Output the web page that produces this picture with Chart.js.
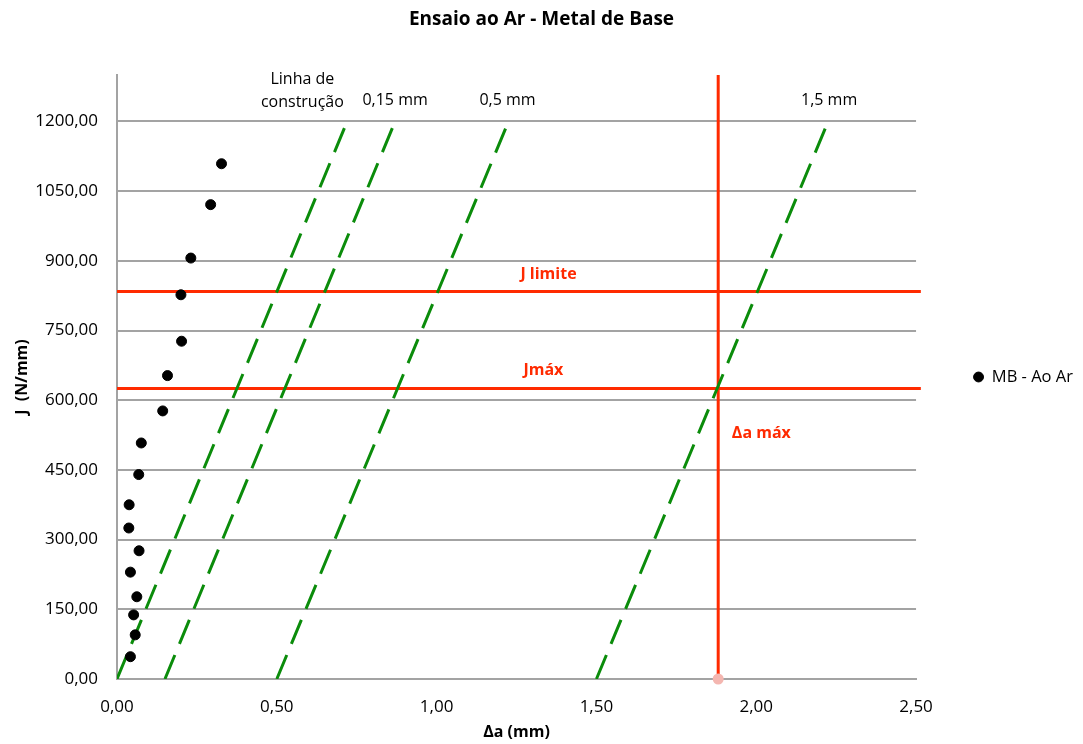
<!DOCTYPE html>
<html>
<head>
<meta charset="utf-8">
<script src="https://cdn.jsdelivr.net/npm/chart.js@4"></script>
<style>
  html, body { margin: 0; padding: 0; background: #ffffff; }
  #wrap { width: 1083px; height: 744px; }
</style>
</head>
<body>
<div id="wrap"><canvas id="chart" width="1083" height="744"></canvas></div>
<script>
// MB - Ao Ar measured points (Δa mm, J N/mm)
const mbDa = [0.042, 0.057, 0.052, 0.062, 0.042, 0.069, 0.037, 0.038, 0.068, 0.076,
              0.143, 0.158, 0.202, 0.200, 0.231, 0.293, 0.327];
const mbJ  = [48, 95, 138, 177, 230, 276, 325, 375, 440, 508,
              577, 653, 727, 827, 906, 1021, 1109];

// blunting / offset lines: [start Δa, end Δa] from J=0 to J=1200
const offsetNames = ["Linha de construção", "0,15 mm", "0,5 mm", "1,5 mm"];
const offsetDaStart = [0, 0.15, 0.5, 1.5];
const offsetDaEnd   = [0.72, 0.87, 1.225, 2.225];
const offsetJ       = [0, 1200];

// limits
const jLimite = 834;
const jMax = 625;
const daMax = 1.881;
const limitDaSpan = [0, 2.515];
const limitJSpan = [0, 1300];

const xTicks = [0, 0.5, 1.0, 1.5, 2.0, 2.5];
const yTicks = [0, 150, 300, 450, 600, 750, 900, 1050, 1200];

const fmt = v => v.toFixed(2).replace(".", ",");

const GREEN = "#0b8c0b";
const RED = "#ff2a00";
const FONT = "'Open Sans', sans-serif";

// text labels placed at data coordinates
const notes = [
  { text: "Linha de", x: 0.58, y: 1290, color: "#000", bold: false },
  { text: "construção", x: 0.58, y: 1240, color: "#000", bold: false },
  { text: "0,15 mm", x: 0.87, y: 1245, color: "#000", bold: false },
  { text: "0,5 mm", x: 1.222, y: 1245, color: "#000", bold: false },
  { text: "1,5 mm", x: 2.228, y: 1245, color: "#000", bold: false },
  { text: "J limite", x: 1.35, y: 870, color: RED, bold: true },
  { text: "Jmáx", x: 1.334, y: 664, color: RED, bold: true },
  { text: "Δa máx", x: 2.016, y: 528, color: RED, bold: true }
];

const notesPlugin = {
  id: "notes",
  afterDatasetsDraw(chart) {
    const { ctx, scales: { x, y } } = chart;
    ctx.save();
    ctx.textAlign = "center";
    ctx.textBaseline = "middle";
    notes.forEach(n => {
      ctx.font = (n.bold ? "bold " : "") + "16px " + FONT;
      ctx.fillStyle = n.color;
      ctx.fillText(n.text, x.getPixelForValue(n.x), y.getPixelForValue(n.y));
    });
    ctx.restore();
  }
};

const datasets = [
  {
    label: "MB - Ao Ar",
    type: "scatter",
    data: mbDa.map((d, i) => ({ x: d, y: mbJ[i] })),
    backgroundColor: "#000000",
    borderColor: "#000000",
    pointRadius: 5,
    pointHoverRadius: 5,
    pointStyle: "circle"
  }
];

offsetNames.forEach((name, i) => {
  datasets.push({
    label: name,
    type: "line",
    data: [
      { x: offsetDaStart[i], y: offsetJ[0] },
      { x: offsetDaEnd[i], y: offsetJ[1] }
    ],
    borderColor: GREEN,
    borderWidth: 3,
    borderDash: [26, 12],
    pointRadius: 0,
    fill: false
  });
});

datasets.push(
  {
    label: "J limite",
    type: "line",
    data: limitDaSpan.map(d => ({ x: d, y: jLimite })),
    borderColor: RED,
    borderWidth: 3,
    pointRadius: 0,
    clip: false
  },
  {
    label: "Jmáx",
    type: "line",
    data: limitDaSpan.map(d => ({ x: d, y: jMax })),
    borderColor: RED,
    borderWidth: 3,
    pointRadius: 0,
    clip: false
  },
  {
    label: "Δa máx",
    type: "line",
    data: limitJSpan.map(j => ({ x: daMax, y: j })),
    borderColor: RED,
    borderWidth: 3,
    pointRadius: [4, 0],
    pointBackgroundColor: "#f4b6b0",
    pointBorderColor: "#f4b6b0",
    clip: false
  }
);

new Chart(document.getElementById("chart"), {
  type: "scatter",
  data: { datasets },
  plugins: [notesPlugin],
  options: {
    responsive: false,
    animation: false,
    layout: { padding: 0 },
    plugins: {
      title: {
        display: true,
        text: "Ensaio ao Ar - Metal de Base",
        color: "#000",
        font: { family: FONT, size: 19, weight: "bold" },
        padding: { top: 8.6, bottom: 43.6 }
      },
      legend: {
        position: "right",
        fullSize: false,
        labels: {
          filter: item => item.datasetIndex === 0,
          usePointStyle: true,
          boxWidth: 10,
          boxHeight: 7,
          padding: 57.5,
          color: "#000",
          font: { family: FONT, size: 16.5 }
        }
      },
      tooltip: { enabled: false }
    },
    scales: {
      x: {
        type: "linear",
        min: 0,
        max: 2.5,
        afterBuildTicks: s => { s.ticks = xTicks.map(v => ({ value: v })); },
        afterFit: s => { s.height = 65; },
        ticks: {
          callback: v => fmt(v),
          color: "#000",
          padding: 18,
          maxRotation: 0,
          font: { family: FONT, size: 17 }
        },
        grid: { display: false, drawTicks: false },
        border: { display: true, color: "#a3a3a3", width: 2 },
        title: {
          display: true,
          text: "Δa (mm)",
          color: "#000",
          font: { family: FONT, size: 16, weight: "bold" },
          padding: { top: 0, bottom: 2.4 }
        }
      },
      y: {
        type: "linear",
        min: 0,
        max: 1300,
        afterBuildTicks: s => { s.ticks = yTicks.map(v => ({ value: v })); },
        afterFit: s => { s.width = 117; },
        ticks: {
          callback: v => fmt(v),
          color: "#000",
          padding: 19,
          font: { family: FONT, size: 17 }
        },
        grid: { color: "#a3a3a3", lineWidth: 2, drawTicks: false },
        border: { display: true, color: "#a3a3a3", width: 2 },
        title: {
          display: true,
          text: "J  (N/mm)",
          color: "#000",
          font: { family: FONT, size: 16, weight: "bold" },
          padding: { top: 12.4, bottom: 0 }
        }
      }
    }
  }
});
</script>
</body>
</html>
